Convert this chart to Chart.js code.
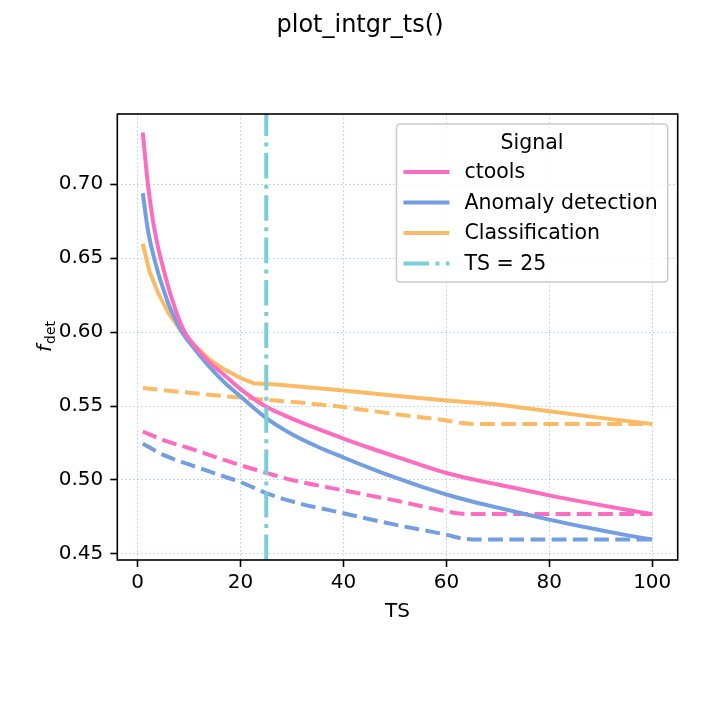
<!DOCTYPE html>
<html>
<head>
<meta charset="utf-8">
<script src="https://cdn.jsdelivr.net/npm/chart.js@4/dist/chart.umd.min.js"></script>
<style>
html, body { margin: 0; padding: 0; background: #fff; }
</style>
</head>
<body>
<canvas id="c" width="720" height="720"></canvas>
<script>
// fraction of detected sources vs TS threshold
var ctoolsTS = [1, 2, 3, 4, 5, 6, 7, 8, 9, 11, 14, 17, 20, 25, 30, 35, 40, 45, 50, 55, 60, 65, 70, 80, 90, 100];
var ctoolsFdet = [0.735, 0.700, 0.675, 0.657, 0.643, 0.630, 0.619, 0.609, 0.601, 0.591, 0.5795, 0.5705, 0.5615, 0.5495, 0.5415, 0.5345, 0.528, 0.5218, 0.516, 0.5102, 0.5047, 0.5005, 0.497, 0.4896, 0.483, 0.4768];
var ctoolsTS2 = [1, 5, 10, 15, 20, 25, 30, 40, 50, 60, 63, 66, 100];
var ctoolsFdet2 = [0.5328, 0.527, 0.5215, 0.5157, 0.510, 0.5048, 0.500, 0.493, 0.4862, 0.4788, 0.4772, 0.477, 0.477];

var anomalyTS = [1, 2, 3, 4, 5, 6, 7, 8, 9, 11, 14, 17, 20, 25, 30, 35, 40, 45, 50, 55, 60, 65, 70, 75, 80, 85, 90, 95, 100];
var anomalyFdet = [0.694, 0.669, 0.653, 0.640, 0.629, 0.619, 0.611, 0.604, 0.598, 0.589, 0.5764, 0.5655, 0.5565, 0.5419, 0.531, 0.5225, 0.5152, 0.5082, 0.5017, 0.4957, 0.4902, 0.4855, 0.4813, 0.4772, 0.4732, 0.4695, 0.466, 0.4627, 0.4597];
var anomalyTS2 = [1, 5, 10, 15, 20, 25, 30, 40, 50, 60, 63, 66, 100];
var anomalyFdet2 = [0.5245, 0.517, 0.5105, 0.5045, 0.4985, 0.4912, 0.4855, 0.4775, 0.4698, 0.463, 0.4605, 0.4597, 0.4597];

var classTS = [1, 2.3, 4, 6, 8.5, 11, 14, 17, 20, 22.5, 27.5, 40, 50, 60, 70, 80, 90, 100];
var classFdet = [0.6597, 0.641, 0.6264, 0.6128, 0.6004, 0.5914, 0.5813, 0.5745, 0.5689, 0.5655, 0.5644, 0.5605, 0.557, 0.5538, 0.551, 0.5465, 0.542, 0.5378];
var classTS2 = [1, 10, 20, 25, 31.5, 40, 51, 60, 63, 66, 100];
var classFdet2 = [0.5622, 0.559, 0.5557, 0.5543, 0.5524, 0.5493, 0.5441, 0.5403, 0.5385, 0.5378, 0.5378];

var tsCut = 25;
var xTicks = [0, 20, 40, 60, 80, 100];
var yTicks = [0.45, 0.50, 0.55, 0.60, 0.65, 0.70];

var pink = 'rgb(252,108,192)';
var blue = 'rgb(115,158,226)';
var orange = 'rgb(251,187,102)';
var cyan = 'rgb(122,206,214)';
var font = 'DejaVu Sans';

var xMin = -3.95, xMax = 104.95;
var yMin = 0.4459, yMax = 0.7475;

function pts(xs, ys) {
    var out = [];
    for (var i = 0; i < xs.length; i++) {
        out.push({x: xs[i], y: ys[i]});
    }
    return out;
}

function series(label, xs, ys, color, dashed, legend, smooth) {
    return {
        label: label,
        data: pts(xs, ys),
        borderColor: color,
        backgroundColor: color,
        borderWidth: 4,
        borderDash: dashed ? [14.8, 6.4] : [],
        borderCapStyle: 'butt',
        borderJoinStyle: 'round',
        pointRadius: 0,
        cubicInterpolationMode: smooth ? 'monotone' : 'default',
        tension: 0,
        fill: false,
        inLegend: legend,
        order: 2
    };
}

var datasets = [
    series('ctools', ctoolsTS, ctoolsFdet, pink, false, true, true),
    series('Anomaly detection', anomalyTS, anomalyFdet, blue, false, true, true),
    series('Classification', classTS, classFdet, orange, false, true, false),
    series('ctools dashed', ctoolsTS2, ctoolsFdet2, pink, true, false, true),
    series('Anomaly detection dashed', anomalyTS2, anomalyFdet2, blue, true, false, true),
    series('Classification dashed', classTS2, classFdet2, orange, true, false, true),
    {
        label: 'TS = ' + tsCut,
        data: [{x: tsCut, y: yMin}, {x: tsCut, y: yMax}],
        borderColor: cyan,
        backgroundColor: cyan,
        borderWidth: 4,
        borderDash: [25.6, 6.4, 4, 6.4],
        pointRadius: 0,
        fill: false,
        inLegend: true,
        order: 0
    }
];

var decor = {
    id: 'decor',
    afterDraw: function(chart) {
        var ctx = chart.ctx;
        var a = chart.chartArea;
        ctx.save();

        // frame
        ctx.strokeStyle = '#000';
        ctx.lineWidth = 1.6;
        ctx.strokeRect(a.left, a.top, a.right - a.left, a.bottom - a.top);

        // title
        ctx.fillStyle = '#000';
        ctx.textAlign = 'center';
        ctx.textBaseline = 'alphabetic';
        ctx.font = '24px "' + font + '"';
        ctx.fillText('plot_intgr_ts()', 360, 32);

        // x label
        ctx.font = '20px "' + font + '"';
        ctx.textBaseline = 'middle';
        ctx.fillText('TS', (a.left + a.right) / 2, 612);

        // y label f_det
        ctx.save();
        ctx.translate(51, (a.top + a.bottom) / 2);
        ctx.rotate(-Math.PI / 2);
        ctx.textAlign = 'left';
        ctx.textBaseline = 'alphabetic';
        ctx.font = 'italic 20px "' + font + '"';
        var wf = ctx.measureText('f').width;
        ctx.font = '14px "' + font + '"';
        var ws = ctx.measureText('det').width;
        var x0 = -(wf + ws) / 2;
        ctx.font = 'italic 20px "' + font + '"';
        ctx.fillText('f', x0, 0);
        ctx.font = '14px "' + font + '"';
        ctx.fillText('det', x0 + wf + 1, 4);
        ctx.restore();

        // legend
        var items = chart.data.datasets.filter(function(d) { return d.inLegend; });
        ctx.font = '20.5px "' + font + '"';
        var maxW = 0;
        items.forEach(function(d) {
            maxW = Math.max(maxW, ctx.measureText(d.label).width);
        });
        var bw = 68 + maxW + 10;
        var bh = 158;
        var bx = a.right - 10 - bw;
        var by = a.top + 10;
        var r = 4;
        ctx.beginPath();
        ctx.moveTo(bx + r, by);
        ctx.lineTo(bx + bw - r, by);
        ctx.arcTo(bx + bw, by, bx + bw, by + r, r);
        ctx.lineTo(bx + bw, by + bh - r);
        ctx.arcTo(bx + bw, by + bh, bx + bw - r, by + bh, r);
        ctx.lineTo(bx + r, by + bh);
        ctx.arcTo(bx, by + bh, bx, by + bh - r, r);
        ctx.lineTo(bx, by + r);
        ctx.arcTo(bx, by, bx + r, by, r);
        ctx.closePath();
        ctx.fillStyle = 'rgba(255,255,255,0.8)';
        ctx.fill();
        ctx.strokeStyle = '#cccccc';
        ctx.lineWidth = 1.6;
        ctx.stroke();

        ctx.fillStyle = '#000';
        ctx.textAlign = 'center';
        ctx.textBaseline = 'middle';
        ctx.fillText('Signal', bx + bw / 2, by + 19.5);
        ctx.textAlign = 'left';
        items.forEach(function(d, i) {
            var yy = by + 48 + i * 30.5;
            ctx.beginPath();
            ctx.strokeStyle = d.borderColor;
            ctx.lineWidth = d.borderWidth;
            ctx.lineCap = 'butt';
            ctx.setLineDash(d.borderDash || []);
            ctx.moveTo(bx + 7, yy);
            ctx.lineTo(bx + 53, yy);
            ctx.stroke();
            ctx.setLineDash([]);
            ctx.fillStyle = '#000';
            ctx.fillText(d.label, bx + 68, yy + 1);
        });

        ctx.restore();
    }
};

var gridColor = 'rgba(150,196,204,0.75)';

new Chart(document.getElementById('c'), {
    type: 'line',
    data: { datasets: datasets },
    options: {
        responsive: false,
        animation: false,
        layout: { padding: { top: 114, right: 42.3, bottom: 0, left: 0 } },
        plugins: {
            legend: { display: false },
            title: { display: false },
            tooltip: { enabled: false }
        },
        scales: {
            x: {
                type: 'linear',
                min: xMin,
                max: xMax,
                afterBuildTicks: function(s) {
                    s.ticks = xTicks.map(function(v) { return {value: v}; });
                },
                afterFit: function(s) { s.height = 160; },
                ticks: {
                    color: '#000',
                    font: { family: font, size: 20 },
                    padding: 4,
                    maxRotation: 0,
                    callback: function(v) { return String(v); }
                },
                grid: {
                    color: gridColor,
                    lineWidth: 1,
                    tickLength: 7,
                    tickColor: '#000',
                    tickWidth: 1.6
                },
                border: { display: false, dash: [1.5, 2.5] }
            },
            y: {
                type: 'linear',
                min: yMin,
                max: yMax,
                afterBuildTicks: function(s) {
                    s.ticks = yTicks.map(function(v) { return {value: v}; });
                },
                afterFit: function(s) { s.width = 117.3; },
                ticks: {
                    color: '#000',
                    font: { family: font, size: 20 },
                    padding: 7,
                    callback: function(v) { return v.toFixed(2); }
                },
                grid: {
                    color: gridColor,
                    lineWidth: 1,
                    tickLength: 7,
                    tickColor: '#000',
                    tickWidth: 1.6
                },
                border: { display: false, dash: [1.5, 2.5] }
            }
        }
    },
    plugins: [decor]
});
</script>
</body>
</html>
